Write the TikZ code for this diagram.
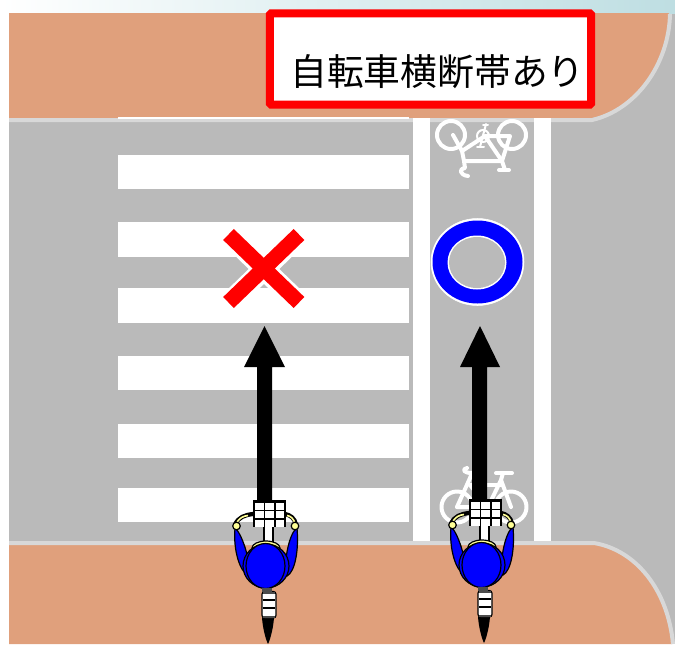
\documentclass[tikz,border=0pt]{standalone}
\usepackage{fontspec}
\newfontfamily\cjk{Noto Sans CJK JP}
\definecolor{walk}{RGB}{224,160,124}
\definecolor{road}{RGB}{186,186,186}
\definecolor{kerb}{RGB}{216,216,216}
\definecolor{teal}{RGB}{190,222,226}
\definecolor{hand}{RGB}{255,255,150}
\tikzset{
  px/.style={x=0.75pt,y=-0.75pt},
  stripe/.style={fill=white,draw=none},
  bikemark/.style={draw=white,line width=3pt,line cap=round,line join=round},
  redbox/.style={draw=red,fill=white,line width=6pt,rounded corners=1pt},
  bigarrow/.style={fill=black,draw=none},
  ol/.style={draw=black,line width=0.9pt},
  pics/cyclist/.style={code={
    % tail
    \fill[black] (262,618) .. controls (263,630) and (266,640) .. (268,644) .. controls (270,640) and (273,630) .. (274,618) -- cycle;
    % rack
    \draw[ol,fill=white,rounded corners=2pt] (262,591.5) rectangle (276,618);
    \fill[black!70] (263,591.5) rectangle (275,594);
    \draw[black,line width=1pt] (263,600) -- (275,600);
    \draw[black,line width=1pt] (263,608) -- (275,608);
    \fill[black!70] (263,615.5) rectangle (275,618);
    % stem
    \draw[ol,fill=white] (264,526) rectangle (273,546);
    % handlebars
    \draw[black,line width=3.2pt,line cap=round] (253,514) .. controls (245,515) and (238,517) .. (235,525);
    \draw[black,line width=3.2pt,line cap=round] (285,514) .. controls (290,515) and (295,518) .. (296,525);
    \draw[hand,line width=1.2pt] (248,515.5) .. controls (243,516) and (239,518) .. (236,524);
    \draw[hand,line width=1.2pt] (287,515.5) .. controls (291,516) and (294,519) .. (295,524);
    % arms
    \draw[ol,fill=blue] (235,528) .. controls (241,532) and (252,562) .. (248,575) .. controls (240,572) and (233,550) .. (235,528) -- cycle;
    \draw[ol,fill=blue] (297,528) .. controls (299,550) and (295,572) .. (287,576) .. controls (283,560) and (290,532) .. (297,528) -- cycle;
    % shoulders
    \draw[ol,fill=hand] (266,548) ellipse (14 and 7);
    \draw[ol,fill=blue] (266,566) ellipse (23 and 22);
    \draw[ol,fill=blue] (265.5,566) ellipse (19.5 and 22.5);
    \fill[black!70] (262,588) rectangle (272,591.5);
    % hands
    \draw[black,fill=hand,line width=0.9pt] (236.5,526) circle (3.8);
    \draw[black,fill=hand,line width=0.9pt] (295,526) circle (3.8);
    % basket
    \fill[black] (253,500) rectangle (286,527);
    \foreach \c in {255,265.3,275.6} \foreach \r in {502.5,511,519.5}
      \fill[white] (\c,\r) rectangle ++(8.6,7);
  }}
}
\begin{document}
\begin{tikzpicture}[px]
\useasboundingbox (0,0) rectangle (675,644);
\clip (0,0) rectangle (675,644);
\fill[white] (0,0) rectangle (675,644);
\shade[left color=white,right color=teal] (0,0) rectangle (675,14);
% road
\fill[road] (9,14) rectangle (675,644);
% top pavement
\fill[walk] (9,13) -- (669,13) .. controls (669,62) and (636,108) .. (592,118) -- (9,118) -- cycle;
\draw[kerb,line width=3pt] (9,120) -- (592,120) .. controls (636,110) and (669,64) .. (670,14);
% crosswalk
\fill[stripe] (118,116.5) rectangle (409,119);
\foreach \a/\b in {155/189,222/257,288/323,356/390,424/458,488/522}
  \fill[stripe] (118,\a) rectangle (409,\b);
% bicycle lane
\fill[stripe] (413,118) rectangle (430,542);
\fill[stripe] (534,118) rectangle (551,542);
% top bicycle symbol
\draw[bikemark] (451,135) circle (14);
\draw[bikemark] (512,135) circle (14);
\draw[bikemark,line width=1.5pt] (483,136) circle (6);
\draw[bikemark] (453,135) -- (462,151) -- (464,161) -- (502,161) -- (485,136) -- (462,151);
\draw[bikemark] (485,136) -- (510,136) -- (502,161) -- (505,170);
\draw[bikemark,line width=1.5pt] (486,124) -- (480,147);
\draw[bikemark,line width=1.5pt] (483,125) -- (488,125);
\draw[bikemark,line width=1.5pt] (477,147) -- (484,147);
\draw[bikemark] (464,161) -- (465,168) .. controls (459,168) and (459,175) .. (468,176);
\draw[bikemark] (499,170) -- (509,170);
% bottom bicycle symbol
\draw[bikemark] (457,507) circle (15.5);
\draw[bikemark] (511,507) circle (15.5);
\draw[bikemark] (457,507) -- (470,478);
\draw[bikemark] (470,485) -- (501,485);
\draw[bikemark] (470,485) -- (488,507) -- (457,507);
\draw[bikemark] (488,507) -- (501,480) -- (511,507);
\draw[bikemark] (470,478) -- (472,473) .. controls (463,473) and (462,469) .. (467,468);
\draw[bikemark] (496,473) -- (512,473);
\draw[bikemark] (501,480) -- (503,473);
% ring
\draw[white,fill=white] (477.5,262) ellipse (46.5 and 43.5);
\fill[blue] (477.5,262) ellipse (45 and 41.5);
\fill[white] (477,262.5) ellipse (29.5 and 27);
\fill[road] (477,262.5) ellipse (28 and 25.5);
% cross
\draw[white,line width=16pt] (231,237) -- (297,301);
\draw[white,line width=16pt] (297,237) -- (231,301);
\draw[red,line width=11.5pt] (228.5,234.5) -- (299,302.5);
\draw[red,line width=11.5pt] (299,234.5) -- (228.5,302.5);
% bottom pavement
\fill[walk] (9,544) -- (592,544) .. controls (636,550) and (668,590) .. (672,644) -- (9,644) -- cycle;
\draw[kerb,line width=3pt] (9,543) -- (594,543) .. controls (636,550) and (668,590) .. (673,644);
% arrows
\fill[bigarrow] (257,505) -- (257,367) -- (244,367) -- (264.5,326) -- (285,367) -- (272,367) -- (272,505) -- cycle;
\fill[bigarrow] (472,505) -- (472,367) -- (460,367) -- (480,326) -- (500,367) -- (487,367) -- (487,505) -- cycle;
% cyclists
\pic at (0,0) {cyclist};
\pic at (216,-1) {cyclist};
% sign
\node[redbox,minimum width=241pt,minimum height=68.5pt,inner sep=0pt] (signbox) at (430.5,59) {};
\node[anchor=center,font=\cjk\fontsize{27.6pt}{30pt}\selectfont,inner sep=0pt] (signtext) at (437.5,72) {自転車横断帯あり};
\end{tikzpicture}
\end{document}
